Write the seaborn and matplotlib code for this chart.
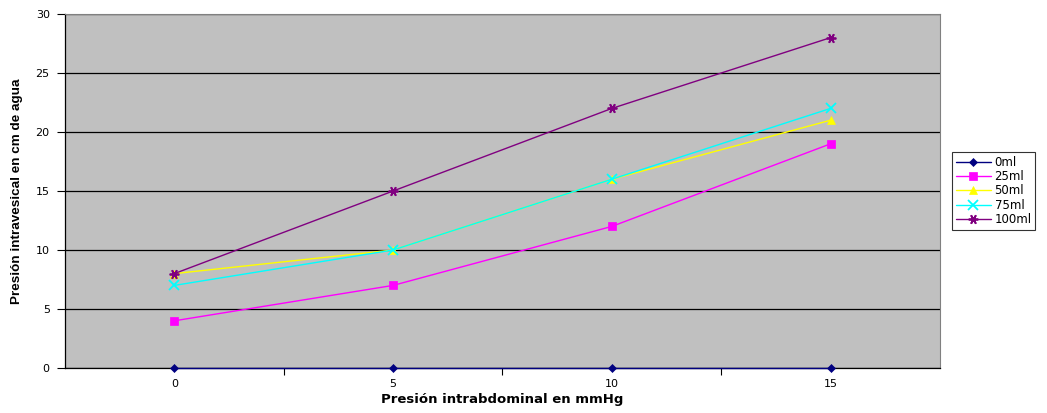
import matplotlib
matplotlib.use("Agg")
import matplotlib.pyplot as plt
import seaborn as sns
import pandas as pd

categories = ["0", "5", "10", "15"]
series_names = ["0ml", "25ml", "50ml", "75ml", "100ml"]
s0 = [0, 0, 0, 0]
s25 = [4, 7, 12, 19]
s50 = [8, 10, 16, 21]
s75 = [7, 10, 16, 22]
s100 = [8, 15, 22, 28]
colors = ["#000080", "#FF00FF", "#FFFF00", "#00FFFF", "#800080"]
markers = ["D", "s", "^", "x", (6, 2, 90)]
msizes = [4, 5.5, 5.5, 6.5, 7]

rows = []
for name, vals in zip(series_names, [s0, s25, s50, s75, s100]):
    for i, v in enumerate(vals):
        rows.append({"x": i, "y": v, "serie": name})
df = pd.DataFrame(rows)

sns.set_style("white")
plt.rcParams["font.family"] = ["DejaVu Sans"]
plt.rcParams["text.color"] = "black"
plt.rcParams["axes.labelcolor"] = "black"
plt.rcParams["xtick.color"] = "black"
plt.rcParams["ytick.color"] = "black"

fig = plt.figure(figsize=(10.47, 4.13), dpi=100)
ax = fig.add_axes([65/1047, 45/413, (940-65)/1047, (368-14)/413])
ax.set_facecolor("#C0C0C0")

for name, c, m, ms in zip(series_names, colors, markers, msizes):
    sub = df[df["serie"] == name]
    sns.lineplot(data=sub, x="x", y="y", color=c, marker=m, markersize=ms,
                 markeredgecolor=c, markerfacecolor=c,
                 markeredgewidth=1.3 if (m == "x" or isinstance(m, tuple)) else 0.5,
                 linewidth=1.0, ax=ax, label=name, zorder=4, clip_on=False)

ax.set_xlim(-0.5, 3.5)
ax.set_ylim(0, 30)
ax.set_yticks(range(0, 31, 5))
ax.set_xticks(range(4))
ax.set_xticklabels(categories)
ax.set_xticks([0.5, 1.5, 2.5], minor=True)
ax.tick_params(axis="x", which="major", bottom=False, length=0, pad=8, labelsize=8)
ax.tick_params(axis="x", which="minor", bottom=True, length=5, width=0.8, color="black", direction="out")
ax.tick_params(axis="y", left=True, length=6, width=0.8, color="black", direction="out", labelsize=8, pad=5)
ax.yaxis.grid(True, color="black", linewidth=0.9)
ax.set_axisbelow(True)

for s in ["top", "right"]:
    ax.spines[s].set_color("#808080")
    ax.spines[s].set_linewidth(0.8)
for s in ["left", "bottom"]:
    ax.spines[s].set_color("black")
    ax.spines[s].set_linewidth(0.9)

ax.set_xlabel("Presión intrabdominal en mmHg", fontsize=9.5, fontweight="bold", labelpad=3)
ax.set_ylabel("Presión intravesical en cm de agua", fontsize=9.7, fontweight="bold",
              family=["Liberation Sans"], labelpad=9)

leg = ax.legend(loc="center left", bbox_to_anchor=(952/1047, 1 - 191/413), bbox_transform=fig.transFigure,
                frameon=True, fancybox=False, edgecolor="black", fontsize=8.5,
                handlelength=3.0, borderpad=0.3, labelspacing=0.12, handletextpad=0.3,
                borderaxespad=0)
leg.get_frame().set_linewidth(0.8)

fig.savefig("out.png", dpi=100, facecolor="white")
